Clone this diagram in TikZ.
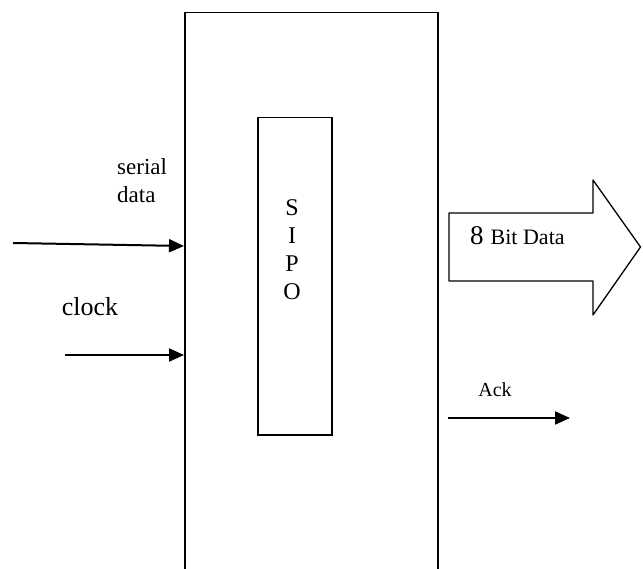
\documentclass[tikz,border=0pt]{standalone}
\usepackage{fontspec}
\setmainfont{Liberation Serif}
\usetikzlibrary{arrows.meta}

\tikzset{
  blk/.style={draw, line width=1.5pt, inner sep=0pt},
  sig/.style={-{Triangle[length=15pt,width=13pt]}, line width=2pt},
  lbl/.style={inner sep=0pt},
}

\begin{document}
\begin{tikzpicture}[x=1pt,y=-1pt]
\useasboundingbox (0,0) rectangle (643,569);
%%
\node[blk, anchor=north west, minimum width=253pt, minimum height=600pt] (reg) at (184,12) {};
\node[blk, anchor=north west, minimum width=74pt, minimum height=317pt] (sipo) at (257,117) {};
\node[lbl, align=center, font={\fontsize{24}{28}\selectfont}] (sipotxt) at (292,250) {S\\I\\P\\O};
%%
\node[lbl, anchor=west, align=left, font={\fontsize{23}{28}\selectfont}] (sdtxt) at (117,181) {serial\\data};
\node[lbl, font={\fontsize{26}{30}\selectfont}] (clktxt) at (90,307) {clock};
\coordinate (sdin) at (13,243);
\coordinate (sdend) at (184,246);
\coordinate (clkin) at (65,355);
\coordinate (clkend) at (184,355);
\draw[sig] (sdin) -- (sdend);
\draw[sig] (clkin) -- (clkend);
%%
\draw[line width=1.3pt, line join=round] (449,213) -- (593,213) -- (593,180) -- (640.5,247)
  -- (593,315) -- (593,281) -- (449,281) -- cycle;
\node[lbl, anchor=base west] (bustxt) at (470,245) {{\fontsize{27}{30}\selectfont 8}\hspace{7pt}{\fontsize{22}{26}\selectfont Bit Data}};
%%
\node[lbl, font={\fontsize{20}{24}\selectfont}] (acktxt) at (495,390) {Ack};
\coordinate (ackout) at (448,418);
\coordinate (ackend) at (570,418);
\draw[sig] (ackout) -- (ackend);
\end{tikzpicture}
\end{document}
